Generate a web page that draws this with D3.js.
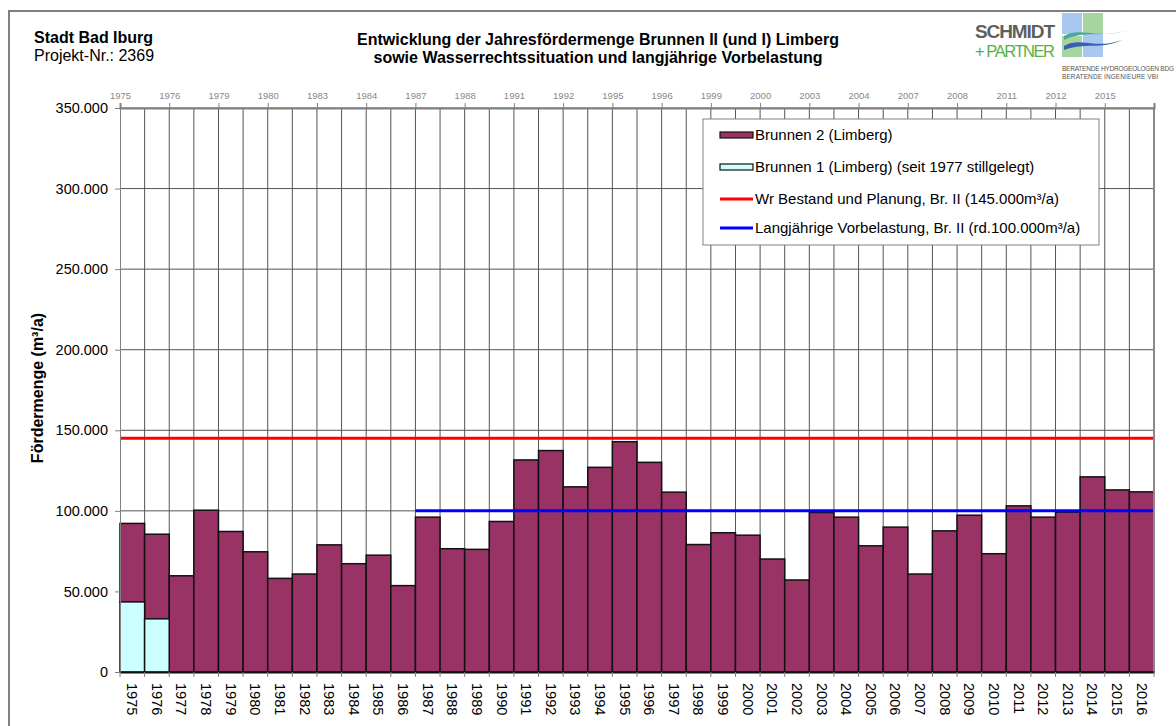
<!DOCTYPE html>
<html>
<head>
<meta charset="utf-8">
<script src="https://cdn.jsdelivr.net/npm/d3@7"></script>
<style>
  body { margin: 0; background: #fff; }
  svg { font-family: "Liberation Sans", Arial, sans-serif; }
</style>
</head>
<body>
<svg id="chart" width="1176" height="726"></svg>
<script>
// Jahre und Fördermengen (m³/a)
const years = d3.range(1975, 2017).map(String);
const brunnen1 = [43500, 33000, 0, 0, 0, 0, 0, 0, 0, 0, 0, 0, 0, 0, 0, 0, 0, 0, 0, 0, 0,
  0, 0, 0, 0, 0, 0, 0, 0, 0, 0, 0, 0, 0, 0, 0, 0, 0, 0, 0, 0, 0];
const gesamt = [92200, 85500, 59700, 100400, 87200, 74600, 58100, 60800, 78900, 67200, 72500,
  53600, 96100, 76500, 76100, 93400, 131600, 137400, 114900, 127000, 142900,
  130100, 111600, 79100, 86400, 84900, 70100, 57100, 99000, 96100, 78300,
  89900, 60800, 87600, 97300, 73400, 103100, 96100, 99200, 121100, 113000, 111800];
const brunnen2 = gesamt.map((g, i) => g - brunnen1[i]);
const wrBestand = 145000;
const vorbelastung = 100000;
const vorbelastungAb = "1987";
const topLabels = ["1975", "1976", "1979", "1980", "1983", "1984", "1987", "1988", "1991", "1992",
  "1995", "1996", "1999", "2000", "2003", "2004", "2007", "2008", "2011", "2012", "2015"];
const yTicks = [0, 50000, 100000, 150000, 200000, 250000, 300000, 350000];
const legendItems = [
  { label: "Brunnen 2 (Limberg)", type: "rect", color: "#993366" },
  { label: "Brunnen 1 (Limberg) (seit 1977 stillgelegt)", type: "rect", color: "#ccffff" },
  { label: "Wr Bestand und Planung, Br. II (145.000m³/a)", type: "line", color: "#ff0000" },
  { label: "Langjährige Vorbelastung, Br. II (rd.100.000m³/a)", type: "line", color: "#0000ff" }
];

const svg = d3.select("#chart");
const pL = 120, pR = 1154, pT = 108, pB = 672;

const de = d3.formatLocale({ decimal: ",", thousands: ".", grouping: [3], currency: ["", "€"] });
const fmt = de.format(",");

const x = d3.scaleBand().domain(years).range([pL, pR]).padding(0);
const y = d3.scaleLinear().domain([0, 350000]).range([pB, pT]);
const xb = d3.scaleLinear().domain([0, years.length]).range([pL, pR]);

// Rahmen
svg.append("rect").attr("x", 9).attr("y", 11).attr("width", 1180).attr("height", 730)
  .attr("fill", "none").attr("stroke", "#808080").attr("stroke-width", 2);

// Kopf
svg.append("text").attr("x", 34).attr("y", 43).attr("font-size", 16).attr("font-weight", "bold")
  .text("Stadt Bad Iburg");
svg.append("text").attr("x", 34).attr("y", 61).attr("font-size", 16).text("Projekt-Nr.: 2369");
svg.append("text").attr("x", 598).attr("y", 45).attr("font-size", 16).attr("font-weight", "bold")
  .attr("text-anchor", "middle").text("Entwicklung der Jahresfördermenge Brunnen II (und I) Limberg");
svg.append("text").attr("x", 598).attr("y", 63).attr("font-size", 16).attr("font-weight", "bold")
  .attr("text-anchor", "middle").text("sowie Wasserrechtssituation und langjährige Vorbelastung");

// Logo
const logo = svg.append("g");
logo.append("text").attr("x", 975).attr("y", 38).attr("font-size", 19).attr("font-weight", "bold")
  .attr("fill", "#5f5f5f").attr("textLength", 80).text("SCHMIDT");
logo.append("text").attr("x", 975).attr("y", 57).attr("font-size", 16.5)
  .attr("fill", "#55b047").attr("textLength", 80).text("+ PARTNER");
logo.append("rect").attr("x", 1062).attr("y", 13).attr("width", 20).attr("height", 21).attr("fill", "#a9c8f0");
logo.append("rect").attr("x", 1083).attr("y", 13).attr("width", 20).attr("height", 21).attr("fill", "#a6d5a0");
logo.append("rect").attr("x", 1062).attr("y", 36).attr("width", 20).attr("height", 21).attr("fill", "#a6d5a0");
logo.append("rect").attr("x", 1083).attr("y", 34).attr("width", 20).attr("height", 23).attr("fill", "#a9c8f0");
logo.append("path").attr("d", "M1064,36 C1080,26 1095,40 1130,30 C1100,38 1085,30 1064,40 Z").attr("fill", "#4aa89a");
logo.append("path").attr("d", "M1064,46 C1080,36 1095,50 1122,40 C1100,50 1085,42 1064,50 Z").attr("fill", "#3b5fb3");
logo.append("text").attr("x", 1062).attr("y", 71).attr("font-size", 6.5).attr("fill", "#555")
  .attr("textLength", 112).text("BERATENDE HYDROGEOLOGEN BDG");
logo.append("text").attr("x", 1062).attr("y", 79).attr("font-size", 6.5).attr("fill", "#555")
  .attr("textLength", 96).text("BERATENDE INGENIEURE VBI");

// Gitter
svg.append("g").selectAll("line").data(yTicks.slice(1)).join("line")
  .attr("x1", pL).attr("x2", pR).attr("y1", d => y(d)).attr("y2", d => y(d))
  .attr("stroke", "#555").attr("stroke-width", 1);
svg.append("g").selectAll("line").data(d3.range(1, years.length)).join("line")
  .attr("x1", d => xb(d)).attr("x2", d => xb(d)).attr("y1", pT).attr("y2", pB)
  .attr("stroke", "#555").attr("stroke-width", 1);

// Balken
svg.append("g").selectAll("rect").data(years).join("rect")
  .attr("x", d => x(d)).attr("width", x.bandwidth())
  .attr("y", (d, i) => y(gesamt[i])).attr("height", (d, i) => y(brunnen1[i]) - y(gesamt[i]))
  .attr("fill", "#993366").attr("stroke", "#111").attr("stroke-width", 1.5);
svg.append("g").selectAll("rect").data(years.filter((d, i) => brunnen1[i] > 0)).join("rect")
  .attr("x", d => x(d)).attr("width", x.bandwidth())
  .attr("y", (d, i) => y(brunnen1[i])).attr("height", (d, i) => y(0) - y(brunnen1[i]))
  .attr("fill", "#ccffff").attr("stroke", "#111").attr("stroke-width", 1.5);

// Linien
svg.append("line").attr("x1", pL).attr("x2", pR).attr("y1", y(wrBestand)).attr("y2", y(wrBestand))
  .attr("stroke", "#ff0000").attr("stroke-width", 3);
svg.append("line").attr("x1", x(vorbelastungAb)).attr("x2", pR)
  .attr("y1", y(vorbelastung)).attr("y2", y(vorbelastung))
  .attr("stroke", "#0000ff").attr("stroke-width", 3);

// Plotrahmen
svg.append("line").attr("x1", pR).attr("x2", pR).attr("y1", pT).attr("y2", pB)
  .attr("stroke", "#888").attr("stroke-width", 2);

// y-Achse
const yAxis = svg.append("g").attr("transform", `translate(${pL},0)`)
  .call(d3.axisLeft(y).tickValues(yTicks).tickFormat(fmt).tickSize(5).tickPadding(7));
yAxis.select(".domain").attr("stroke", "#808080");
yAxis.selectAll(".tick line").attr("stroke", "#808080");
yAxis.selectAll("text").attr("font-size", 14.5).attr("fill", "#000").attr("font-family", "Liberation Sans, Arial, sans-serif");

// obere Achse
const topAxis = svg.append("g").attr("transform", `translate(0,${pT})`)
  .call(d3.axisTop(xb).tickValues(topLabels.map((d, i) => i * 2))
    .tickFormat(d => topLabels[d / 2]).tickSize(5).tickPadding(4));
topAxis.select(".domain").attr("stroke", "#808080").attr("stroke-width", 2);
topAxis.selectAll(".tick line").attr("stroke", "#808080");
topAxis.selectAll("text").attr("font-size", 9.5).attr("fill", "#888").attr("font-family", "Liberation Sans, Arial, sans-serif");

// x-Achse
const xAxis = svg.append("g").attr("transform", `translate(0,${pB})`)
  .call(d3.axisBottom(x).tickSize(0).tickPadding(0));
xAxis.select(".domain").attr("stroke", "#111").attr("stroke-width", 2);
xAxis.selectAll("text").attr("font-size", 14.5).attr("fill", "#000")
  .attr("font-family", "Liberation Sans, Arial, sans-serif")
  .attr("text-anchor", "start").attr("dy", "0.35em")
  .attr("transform", "translate(0,11) rotate(90)");
svg.append("g").selectAll("line").data(d3.range(0, years.length + 1)).join("line")
  .attr("x1", d => xb(d)).attr("x2", d => xb(d)).attr("y1", pB).attr("y2", pB + 5)
  .attr("stroke", "#808080");

// y-Titel
svg.append("text").attr("transform", "translate(43,388) rotate(-90)")
  .attr("text-anchor", "middle").attr("font-size", 16).attr("font-weight", "bold")
  .text("Fördermenge (m³/a)");

// Legende
const lg = svg.append("g").attr("transform", "translate(703,119)");
lg.append("rect").attr("width", 396).attr("height", 126).attr("fill", "#fff").attr("stroke", "#808080");
const rowY = [16, 48, 80, 109];
legendItems.forEach((d, i) => {
  const g = lg.append("g").attr("transform", `translate(0,${rowY[i]})`);
  if (d.type === "rect") {
    g.append("rect").attr("x", 17).attr("y", -3).attr("width", 33).attr("height", 6)
      .attr("fill", d.color).attr("stroke", "#111").attr("stroke-width", 1.2);
  } else {
    g.append("line").attr("x1", 17).attr("x2", 50).attr("stroke", d.color).attr("stroke-width", 3);
  }
  g.append("text").attr("x", 52).attr("dy", "0.35em").attr("font-size", 15).text(d.label);
});
</script>
</body>
</html>
